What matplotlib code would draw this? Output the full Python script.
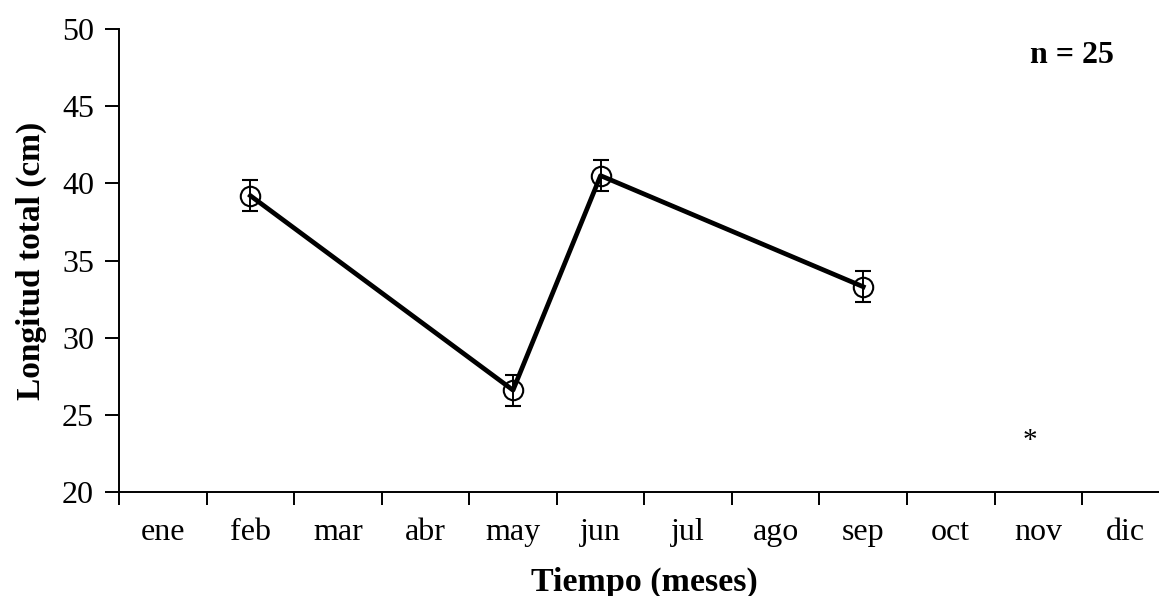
import numpy as np
from matplotlib import pyplot as plt

plt.rc('font', family='Liberation Serif', size=23)

months = ['ene', 'feb', 'mar', 'abr', 'may', 'jun', 'jul', 'ago', 'sep', 'oct', 'nov', 'dic']
obs_months = ['feb', 'may', 'jun', 'sep']
longitud = [39.2, 26.6, 40.5, 33.3]
error = [1.0, 1.0, 1.0, 1.0]
star_x = 10.4
star_y = 23.3

fig = plt.figure(figsize=(11.59, 5.96), dpi=100)
ax = fig.add_axes([0.1027, 0.1745, 0.9065, 0.7768])

xpos = [months.index(m) + 0.5 for m in obs_months]
ax.plot(xpos, longitud, color='black', lw=3.4, zorder=2)
ax.errorbar(xpos, longitud, yerr=error, fmt='o', mfc='none', mec='black',
            mew=1.5, ms=14, ecolor='black', elinewidth=1.4, capsize=6,
            capthick=1.4, zorder=3)

ax.text(star_x, star_y, '*', ha='center', va='center', fontsize=21)
ax.text(10.88, 48.3, 'n = 25', ha='center', va='center', fontsize=23, fontweight='bold')

ax.set_xlim(0, 12)
ax.set_ylim(20, 50)
ax.set_yticks(np.arange(20, 51, 5))
ax.set_xticks(np.arange(0, 13))
ax.set_xticklabels([])
ax.set_xticks(np.arange(12) + 0.5, minor=True)
ax.set_xticklabels(months, minor=True)
ax.tick_params(axis='x', which='minor', length=0, pad=19)
ax.tick_params(axis='x', which='major', length=9, width=1.4, direction='out')
ax.tick_params(axis='y', length=10, width=1.4, direction='out', pad=8)

for s in ['top', 'right']:
    ax.spines[s].set_visible(False)
for s in ['left', 'bottom']:
    ax.spines[s].set_linewidth(1.4)

ax.set_xlabel('Tiempo (meses)', fontweight='bold', fontsize=24.5, labelpad=14)
ax.set_ylabel('Longitud total (cm)', fontweight='bold', fontsize=24, labelpad=11)

plt.savefig('out.png', dpi=100)
